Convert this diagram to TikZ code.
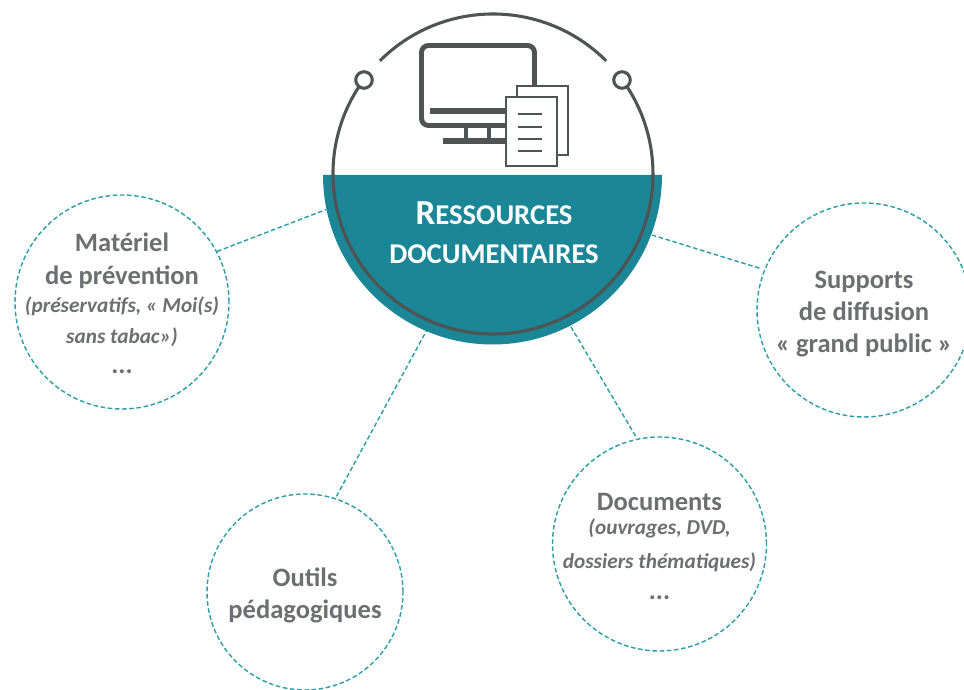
\documentclass[tikz,border=0pt]{standalone}
\usepackage{fontspec}
\setmainfont{Carlito}
\definecolor{teal}{HTML}{1A8696}
\definecolor{dashteal}{HTML}{2A9DA8}
\definecolor{icongrey}{HTML}{505354}
\definecolor{textgrey}{HTML}{6D6E71}
\newcommand{\detail}[1]{{\fontsize{12.1pt}{14pt}\selectfont\itshape #1}}
\newcommand{\capital}[2]{{\fontsize{20pt}{22pt}\selectfont #1}\MakeUppercase{#2}}

\begin{document}
\begin{tikzpicture}
	\tikzstyle{bubble}=[draw=dashteal,shape=circle,line width=0.8pt,dash pattern=on 2.6pt off 1.5pt,inner sep=0pt,minimum size=4.28cm]
	\tikzstyle{link}=[draw=dashteal,line width=0.8pt,dash pattern=on 2.6pt off 1.5pt]
	\tikzstyle{ring}=[draw=icongrey,line width=1.75pt]
	\tikzstyle{icon}=[draw=icongrey,line width=2.8pt]
	\tikzstyle{sheet}=[draw=icongrey,fill=white,line width=1.5pt]
	\tikzstyle{rule}=[draw=icongrey,line width=1.3pt]
	\tikzstyle{caption}=[text=textgrey,font=\fontsize{15.1pt}{18.2pt}\selectfont\bfseries,align=center,inner sep=0pt]
	\useasboundingbox (0,0) rectangle (19.28,13.8);

	\fill[teal] (6.46,10.3) arc[start angle=180,end angle=360,radius=3.39] -- cycle;
	\node[shape=circle,inner sep=0pt,minimum size=6.8cm](ressources) at (9.86,10.32){};
	\draw[ring] (9.86,10.32) ++(135:3.2) arc[start angle=135,end angle=45,radius=3.2];
	\draw[ring] (9.86,10.32) ++(147:3.2) arc[start angle=147,end angle=393,radius=3.2];
	\node[ring,shape=circle,inner sep=0pt,minimum size=0.33cm](holeleft) at (7.28,12.2){};
	\node[ring,shape=circle,inner sep=0pt,minimum size=0.33cm](holeright) at (12.44,12.2){};

	% screen and stand
	\draw[icon,rounded corners=0.14cm] (8.43,11.29) rectangle (10.69,12.89);
	\draw[icongrey,line width=3.4pt] (8.6,11.58) -- (10.2,11.58);
	\draw[icongrey,line width=2.6pt] (9.32,11.28) -- (9.32,11);
	\draw[icongrey,line width=2.6pt] (9.78,11.28) -- (9.78,11);
	\draw[icongrey,line width=3.4pt] (8.86,10.98) -- (10.2,10.98);
	% papers
	\draw[sheet] (10.34,10.7) rectangle (11.36,12.08);
	\draw[sheet] (10.12,10.48) rectangle (11.14,11.86);
	\draw[rule] (10.36,11.52) -- (10.84,11.52);
	\draw[rule] (10.36,11.26) -- (10.84,11.26);
	\draw[rule] (10.36,11.02) -- (10.84,11.02);
	\draw[rule] (10.36,10.78) -- (10.84,10.78);

	\node[text=white,font=\fontsize{16.3pt}{22.4pt}\selectfont\bfseries,align=center,inner sep=0pt](title) at (9.88,9.14){\capital{R}{essources}\\\MakeUppercase{documentaires}};

	\node[bubble](materiel) at (2.44,7.76){};
	\node[caption](materieltext) at (2.44,7.73){Matériel\\[0.6pt]de prévention\\[-2.2pt]\detail{(préservatifs, « Moi(s)}\\[-0.6pt]\detail{sans tabac»)}\\[-1pt]...};

	\node[bubble](supports) at (17.28,7.6){};
	\node[caption](supportstext) at (17.28,7.52){Supports\\de diffusion\\« grand public »};

	\node[bubble](documents) at (13.19,2.92){};
	\node[caption](documentstext) at (13.19,2.87){Documents\\[-4.5pt]\detail{(ouvrages, DVD,}\\[1pt]\detail{dossiers thématiques)}\\[-0.9pt]...};

	\node[bubble,minimum size=3.92cm](outils) at (6.1,1.96){};
	\node[caption](outilstext) at (6.1,1.89){Outils\\pédagogiques};

	\draw[link] (materiel.28) -- (ressources.192);
	\draw[link,shorten <=0.1cm] (supports.158) -- (ressources.-21);
	\draw[link,shorten <=0.06cm] (documents.102) -- (ressources.-63);
	\draw[link,shorten <=0.04cm] (outils.72) -- (ressources.247);
\end{tikzpicture}
\end{document}
